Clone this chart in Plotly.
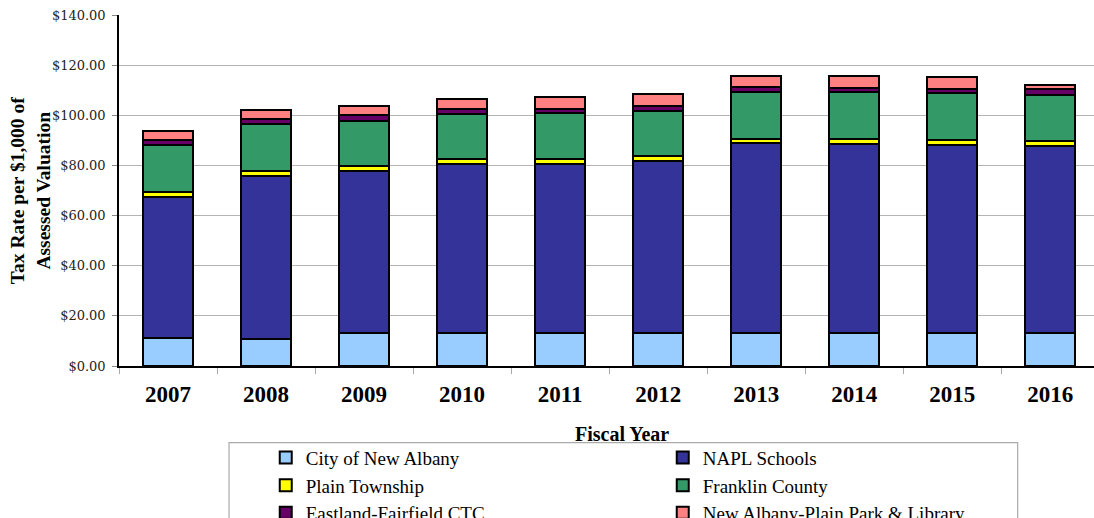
import plotly.graph_objects as go

years = ["2007", "2008", "2009", "2010", "2011", "2012", "2013", "2014", "2015", "2016"]
city = [11.2, 10.8, 13.1, 13.1, 13.1, 13.1, 13.1, 13.1, 13.1, 13.1]
napl = [56.3, 65.1, 64.7, 67.5, 67.6, 68.8, 75.7, 75.4, 75.0, 74.6]
plain = [1.8, 1.9, 2.0, 1.8, 1.7, 1.9, 1.8, 1.9, 2.0, 1.9]
franklin = [18.7, 18.6, 18.0, 18.1, 18.4, 18.0, 18.5, 18.7, 18.6, 18.5]
eastland = [2.0, 2.0, 2.2, 2.0, 1.8, 2.0, 2.3, 1.7, 1.9, 2.2]
park = [3.8, 3.9, 3.9, 4.1, 4.8, 4.6, 4.3, 4.7, 4.6, 1.7]

series = [
    ("City of New Albany", city, "#99CCFF"),
    ("NAPL Schools", napl, "#333399"),
    ("Plain Township", plain, "#FFFF00"),
    ("Franklin County", franklin, "#339966"),
    ("Eastland-Fairfield CTC", eastland, "#660066"),
    ("New Albany-Plain Park & Library", park, "#FF8080"),
]

W, H = 1094, 518
left, top, bottom = 119.3, 14.7, 366.3

fig = go.Figure()
for name, vals, col in series:
    fig.add_trace(go.Bar(
        x=years, y=vals, name=name,
        marker=dict(color=col, line=dict(color="#000000", width=2)),
    ))

fig.update_layout(
    width=W, height=H,
    barmode="stack", bargap=0.49,
    plot_bgcolor="white", paper_bgcolor="white",
    margin=dict(l=left, r=0, t=top, b=H - bottom, autoexpand=False),
    showlegend=True,
    legend=dict(
        orientation="h", x=(266 - left) / (W - left), xanchor="left",
        y=(bottom - 439) / (bottom - top), yanchor="top",
        entrywidth=352, entrywidthmode="pixels",
        font=dict(family="Liberation Serif", size=19, color="#000"),
        bgcolor="rgba(0,0,0,0)", borderwidth=0, traceorder="normal",
        tracegroupgap=0, itemwidth=30,
    ),
    xaxis=dict(
        type="category", range=[-0.5, 9.5 - 5.3 / 98],
        showline=True, linecolor="#000", linewidth=1.5,
        ticks="outside", tickson="boundaries", ticklen=6, tickcolor="#aaaaaa",
        tickfont=dict(family="Liberation Serif", size=23, color="#000"),
        ticklabelstandoff=7, showgrid=False,
    ),
    yaxis=dict(
        range=[0, 140], dtick=20, tickprefix="$", tickformat=".2f",
        showline=True, linecolor="#000", linewidth=1.5,
        ticks="outside", ticklen=5, tickcolor="#888888",
        tickfont=dict(family="DejaVu Serif", size=13, color="#222"),
        ticklabelstandoff=4,
        showgrid=True, gridcolor="#b4b4b4", gridwidth=1, zeroline=False,
    ),
    font=dict(family="Liberation Serif"),
)
fig.update_xaxes(tickfont=dict(weight="bold"))

fig.add_annotation(
    text="<b>Tax Rate per $1,000 of<br>Assessed Valuation</b>",
    xref="paper", yref="paper", x=-(left - 30) / (W - left), y=0.5,
    xanchor="center", yanchor="middle", textangle=-90, showarrow=False,
    font=dict(family="Liberation Serif", size=19.5, color="#000"),
)
fig.add_annotation(
    text="<b>Fiscal Year</b>", xref="paper", yref="paper",
    x=(622 - left) / (W - left), y=(bottom - 434) / (bottom - top),
    xanchor="center", yanchor="middle", showarrow=False,
    font=dict(family="Liberation Serif", size=20, color="#000"),
)
fig.add_shape(
    type="rect", xref="paper", yref="paper",
    x0=(229.3 - left) / (W - left), x1=(1017.7 - left) / (W - left),
    y0=(bottom - 443) / (bottom - top), y1=(bottom - 560) / (bottom - top),
    line=dict(color="#aaaaaa", width=1.2), fillcolor="rgba(0,0,0,0)", layer="below",
)

fig.write_html(
    "out.html",
    config={"displayModeBar": False},
    post_script="document.body.style.margin='0';document.body.style.overflow='hidden';",
)
